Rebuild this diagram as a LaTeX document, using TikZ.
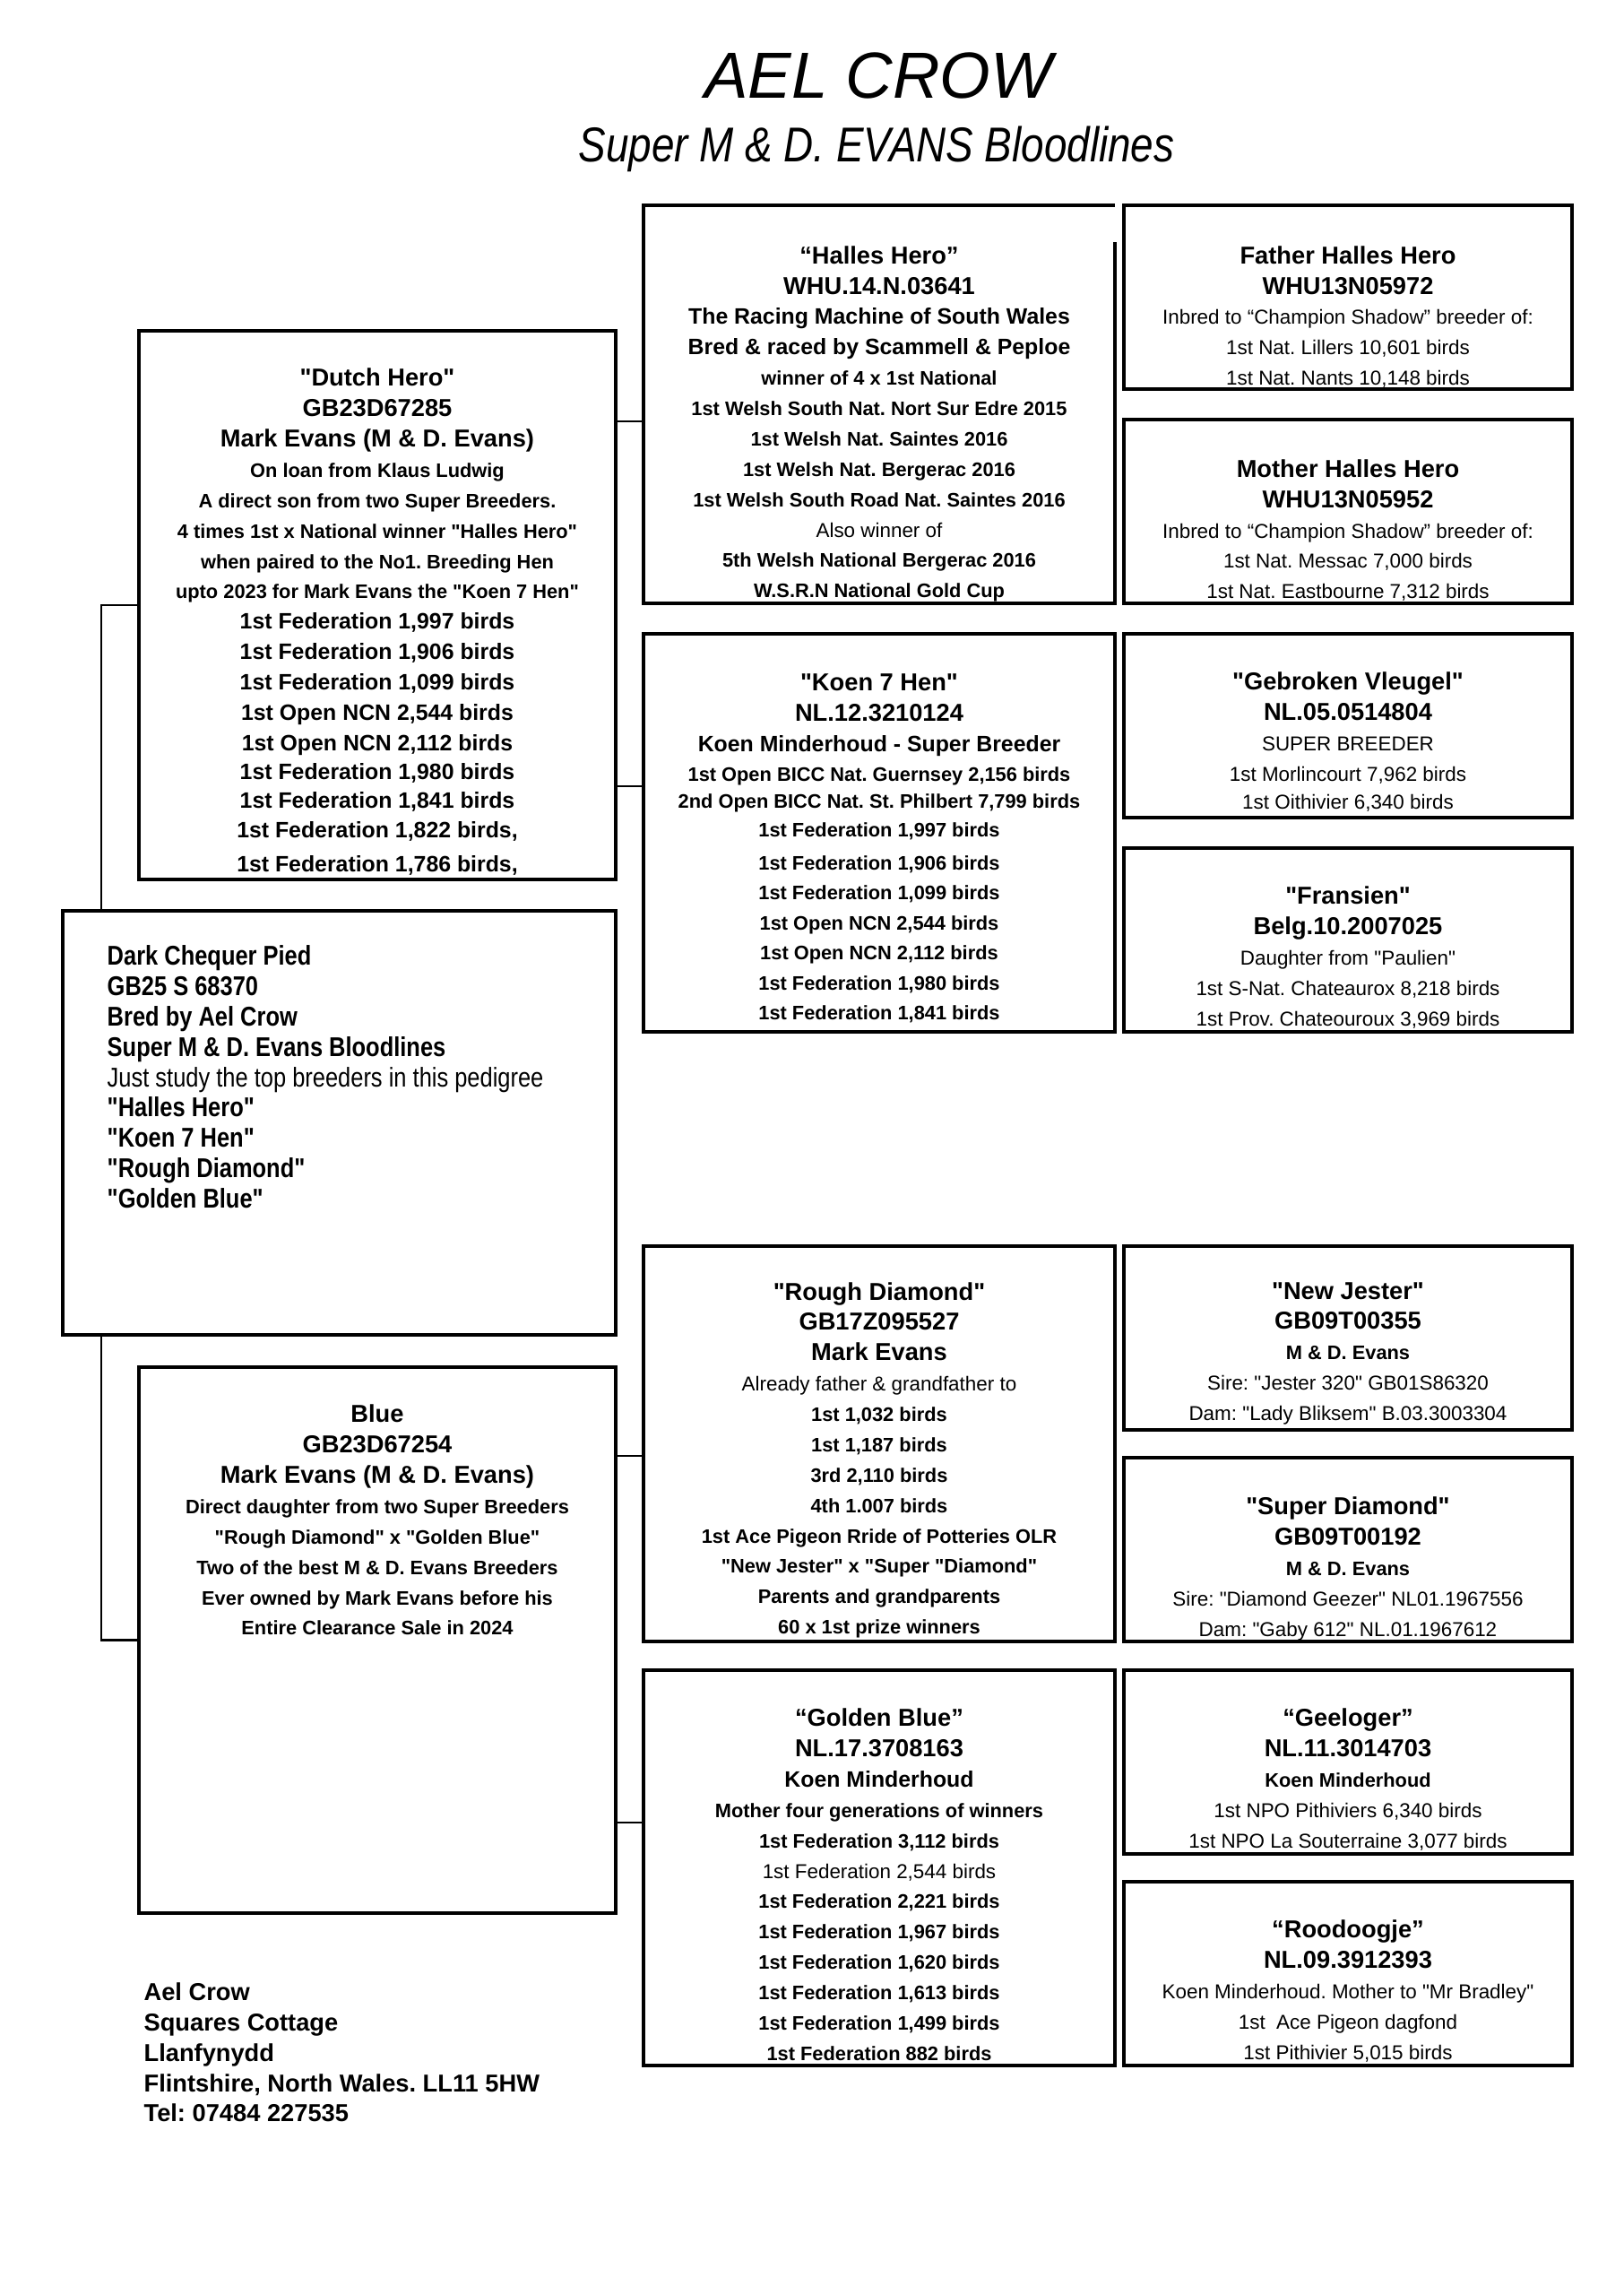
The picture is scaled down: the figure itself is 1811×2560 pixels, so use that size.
\documentclass[tikz,border=0pt]{standalone}
\usepackage{fontspec}
\setmainfont{Liberation Sans}[Ligatures=TeXOff]
\newfontfamily\narrowsf{Liberation Sans}[FakeStretch=0.84, Ligatures=TeXOff]
\usetikzlibrary{positioning,calc}
\frenchspacing

\newcommand{\pname}{\fontsize{9}{11.18}\selectfont\bfseries}
\newcommand{\pbig}{\fontsize{8.2}{11.18}\selectfont\bfseries}
\newcommand{\psmall}{\fontsize{7.2}{11.18}\selectfont\bfseries}
\newcommand{\preg}{\fontsize{7.4}{11.18}\selectfont\mdseries}

\tikzset{
  pbox/.style={draw, line width=1.1pt, fill=white, inner sep=0pt, outer sep=0pt, anchor=north west},
  psize/.style 2 args={minimum width=#1*0.116mm, minimum height=#2*0.116mm},
  ptext/.style={align=center, inner sep=0pt, font=\fontsize{9}{11.18}\selectfont},
  plink/.style={line width=0.85pt},
}

\begin{document}
\begin{tikzpicture}[x=0.116mm, y=-0.116mm]
  \fill[white] (0,0) rectangle (1811,2560);
  \useasboundingbox (0,0) rectangle (1811,2560);

  % heading
  \node[anchor=base, font=\fontsize{24}{28}\selectfont\itshape] (title) at (980,109) {AEL CROW};
  \node[anchor=base, font=\narrowsf\fontsize{18}{22}\selectfont\itshape] (subtitle) at (978,180)
    {Super M \& D. EVANS Bloodlines};

  % parents, then the bird itself over the trunk line
  \node[pbox, psize={532}{612}] (dutch) at (155,369) {};
  \node[pbox, psize={532}{609}] (blue) at (155,1525) {};
  \draw[plink] (dutch.west) -- ++(-42,0) |- (blue.west);
  \node[pbox, psize={617}{473}] (pied) at (70,1016) {};

  % grandparents
  \node[pbox, draw=none, psize={526}{444}] (halles) at (718,229) {};
  \draw[line width=1.1pt] ($(halles.north east)+(0,41)$) -- (halles.south east)
    -- (halles.south west) -- (halles.north west) -- (halles.north east);
  \node[pbox, psize={526}{444}] (koen) at (718,707) {};
  \node[pbox, psize={526}{441}] (rough) at (718,1390) {};
  \node[pbox, psize={526}{441}] (golden) at (718,1863) {};

  % great-grandparents
  \node[pbox, psize={500}{205}] (father) at (1254,229) {};
  \node[pbox, psize={500}{205}] (mother) at (1254,468) {};
  \node[pbox, psize={500}{205}] (gebroken) at (1254,707) {};
  \node[pbox, psize={500}{205}] (fransien) at (1254,946) {};
  \node[pbox, psize={500}{205}] (jester) at (1254,1390) {};
  \node[pbox, psize={500}{205}] (superd) at (1254,1626) {};
  \node[pbox, psize={500}{205}] (geeloger) at (1254,1863) {};
  \node[pbox, psize={500}{205}] (roodoogje) at (1254,2099) {};

  % links parent -> grandparent
  \coordinate (hallesIn) at ($(halles.north west)!0.543!(halles.south west)$);
  \coordinate (koenIn) at ($(koen.north west)!0.383!(koen.south west)$);
  \coordinate (roughIn) at ($(rough.north west)!0.531!(rough.south west)$);
  \coordinate (goldenIn) at ($(golden.north west)!0.385!(golden.south west)$);
  \draw[plink] (dutch.east |- hallesIn) -- (hallesIn);
  \draw[plink] (dutch.east |- koenIn) -- (koenIn);
  \draw[plink] (blue.east |- roughIn) -- (roughIn);
  \draw[plink] (blue.east |- goldenIn) -- (goldenIn);

  % texts
  \node[ptext, below=4.8mm of dutch.north] (dutchT) {%
    \pname "Dutch Hero"\\
    \pname GB23D67285\\
    \pname Mark Evans (M \& D. Evans)\\
    \psmall On loan from Klaus Ludwig\\
    \psmall A direct son from two Super Breeders.\\
    \psmall 4 times 1st x National winner "Halles Hero"\\
    \psmall when paired to the No1. Breeding Hen\\
    \psmall upto 2023 for Mark Evans the "Koen 7 Hen"\\
    \pbig 1st Federation 1,997 birds\\
    \pbig 1st Federation 1,906 birds\\
    \pbig 1st Federation 1,099 birds\\
    \pbig 1st Open NCN 2,544 birds\\
    \pbig 1st Open NCN 2,112 birds\\[-0.4pt]
    \pbig 1st Federation 1,980 birds\\[-0.8pt]
    \pbig 1st Federation 1,841 birds\\[-0.4pt]
    \pbig 1st Federation 1,822 birds,\\[1.4pt]
    \pbig 1st Federation 1,786 birds,};

  \node[align=left, inner sep=0pt, font=\narrowsf\fontsize{10}{11.18}\selectfont\bfseries,
    below right=4.4mm and 5.7mm of pied.north west] (piedT) {%
    Dark Chequer Pied\\
    GB25 S 68370\\
    Bred by Ael Crow\\
    Super M \& D. Evans Bloodlines\\
    \mdseries Just study the top breeders in this pedigree\\
    "Halles Hero"\\
    "Koen 7 Hen"\\
    "Rough Diamond"\\
    "Golden Blue"};

  \node[ptext, below=4.8mm of blue.north] (blueT) {%
    \pname Blue\\
    \pname GB23D67254\\
    \pname Mark Evans (M \& D. Evans)\\
    \psmall Direct daughter from two Super Breeders\\
    \psmall "Rough Diamond" x "Golden Blue"\\
    \psmall Two of the best M \& D. Evans Breeders\\
    \psmall Ever owned by Mark Evans before his\\
    \psmall Entire Clearance Sale in 2024};

  \node[ptext, below=5.2mm of halles.north] (hallesT) {%
    \pname “Halles Hero”\\
    \pname WHU.14.N.03641\\
    \pbig The Racing Machine of South Wales\\
    \pbig Bred \& raced by Scammell \& Peploe\\
    \psmall winner of 4 x 1st National\\
    \psmall 1st Welsh South Nat. Nort Sur Edre 2015\\
    \psmall 1st Welsh Nat. Saintes 2016\\
    \psmall 1st Welsh Nat. Bergerac 2016\\
    \psmall 1st Welsh South Road Nat. Saintes 2016\\
    \preg Also winner of\\
    \psmall 5th Welsh National Bergerac 2016\\
    \psmall W.S.R.N National Gold Cup};

  \node[ptext, below=5.1mm of koen.north] (koenT) {%
    \pname "Koen 7 Hen"\\
    \pname NL.12.3210124\\
    \pbig Koen Minderhoud - Super Breeder\\
    \psmall 1st Open BICC Nat. Guernsey 2,156 birds\\[-1.6pt]
    \psmall 2nd Open BICC Nat. St. Philbert 7,799 birds\\[-0.6pt]
    \psmall 1st Federation 1,997 birds\\[1.2pt]
    \psmall 1st Federation 1,906 birds\\[-0.4pt]
    \psmall 1st Federation 1,099 birds\\
    \psmall 1st Open NCN 2,544 birds\\
    \psmall 1st Open NCN 2,112 birds\\
    \psmall 1st Federation 1,980 birds\\[-0.4pt]
    \psmall 1st Federation 1,841 birds};

  \node[ptext, below=4.6mm of rough.north] (roughT) {%
    \pname "Rough Diamond"\\
    \pname GB17Z095527\\
    \pname Mark Evans\\
    \preg Already father \& grandfather to\\
    \psmall 1st 1,032 birds\\
    \psmall 1st 1,187 birds\\
    \psmall 3rd 2,110 birds\\
    \psmall 4th 1.007 birds\\
    \psmall 1st Ace Pigeon Rride of Potteries OLR\\
    \psmall "New Jester" x "Super "Diamond"\\
    \psmall Parents and grandparents\\
    \psmall 60 x 1st prize winners};

  \node[ptext, below=4.9mm of golden.north] (goldenT) {%
    \pname “Golden Blue”\\
    \pname NL.17.3708163\\
    \pbig Koen Minderhoud\\
    \psmall Mother four generations of winners\\
    \psmall 1st Federation 3,112 birds\\
    \preg 1st Federation 2,544 birds\\
    \psmall 1st Federation 2,221 birds\\
    \psmall 1st Federation 1,967 birds\\
    \psmall 1st Federation 1,620 birds\\
    \psmall 1st Federation 1,613 birds\\
    \psmall 1st Federation 1,499 birds\\
    \psmall 1st Federation 882 birds};

  \node[ptext, below=5.2mm of father.north] (fatherT) {%
    \pname Father Halles Hero\\
    \pname WHU13N05972\\
    \preg Inbred to “Champion Shadow” breeder of:\\
    \preg 1st Nat. Lillers 10,601 birds\\
    \preg 1st Nat. Nants 10,148 birds};

  \node[ptext, below=5.1mm of mother.north] (motherT) {%
    \pname Mother Halles Hero\\
    \pname WHU13N05952\\
    \preg Inbred to “Champion Shadow” breeder of:\\
    \preg 1st Nat. Messac 7,000 birds\\
    \preg 1st Nat. Eastbourne 7,312 birds};

  \node[ptext, below=4.9mm of gebroken.north] (gebrokenT) {%
    \pname "Gebroken Vleugel"\\
    \pname NL.05.0514804\\
    \preg SUPER BREEDER\\
    \preg 1st Morlincourt 7,962 birds\\[-0.8pt]
    \preg 1st Oithivier 6,340 birds};

  \node[ptext, below=4.9mm of fransien.north] (fransienT) {%
    \pname "Fransien"\\
    \pname Belg.10.2007025\\
    \preg Daughter from "Paulien"\\
    \preg 1st S-Nat. Chateaurox 8,218 birds\\
    \preg 1st Prov. Chateouroux 3,969 birds};

  \node[ptext, below=4.6mm of jester.north] (jesterT) {%
    \pname "New Jester"\\
    \pname GB09T00355\\
    \psmall M \& D. Evans\\
    \preg Sire: "Jester 320" GB01S86320\\
    \preg Dam: "Lady Bliksem" B.03.3003304};

  \node[ptext, below=5.0mm of superd.north] (superdT) {%
    \pname "Super Diamond"\\
    \pname GB09T00192\\
    \psmall M \& D. Evans\\
    \preg Sire: "Diamond Geezer" NL01.1967556\\
    \preg Dam: "Gaby 612" NL.01.1967612};

  \node[ptext, below=4.9mm of geeloger.north] (geelogerT) {%
    \pname “Geeloger”\\
    \pname NL.11.3014703\\
    \psmall Koen Minderhoud\\
    \preg 1st NPO Pithiviers 6,340 birds\\
    \preg 1st NPO La Souterraine 3,077 birds};

  \node[ptext, below=4.9mm of roodoogje.north] (roodoogjeT) {%
    \pname “Roodoogje”\\
    \pname NL.09.3912393\\
    \preg Koen Minderhoud. Mother to "Mr Bradley"\\
    \preg 1st\ \ Ace Pigeon dagfond\\
    \preg 1st Pithivier 5,015 birds};

  % address
  \node[align=left, inner sep=0pt, anchor=north west, font=\fontsize{9}{11.18}\selectfont\bfseries]
    (address) at (160,2211) {%
    Ael Crow\\
    Squares Cottage\\
    Llanfynydd\\
    Flintshire, North Wales. LL11 5HW\\
    Tel: 07484 227535};
\end{tikzpicture}
\end{document}
